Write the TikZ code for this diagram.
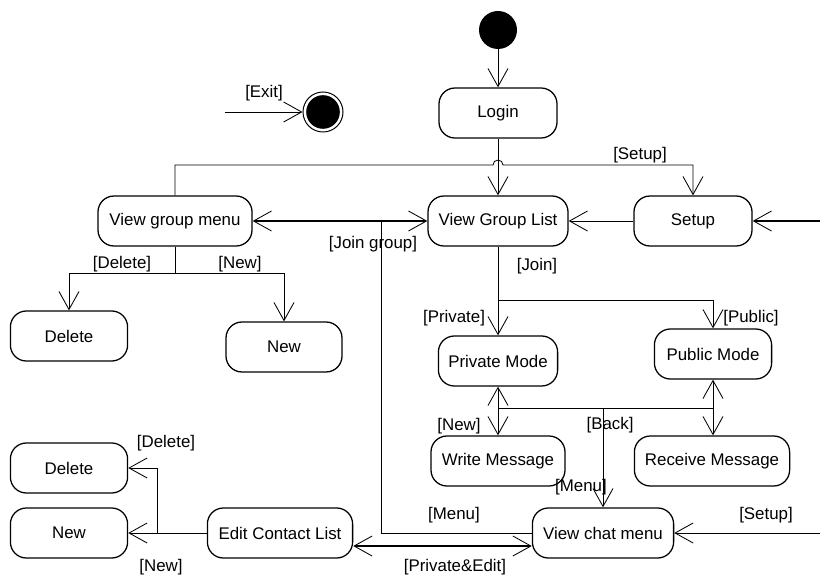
\documentclass[tikz,border=0pt]{standalone}
\usepackage{fontspec}
\setmainfont{Liberation Sans}
\usetikzlibrary{arrows.meta,positioning,calc}

\begin{document}
\begin{tikzpicture}[x=0.025cm, y=-0.025cm,
    act/.style={rectangle, draw, line width=0.9pt, rounded corners=0.4cm,
               minimum height=1.25cm, inner sep=2pt, font=\fontsize{12}{14}\selectfont, align=center},
    guard/.style={inner sep=0pt, font=\fontsize{12}{14}\selectfont},
    arr/.style={-{Straight Barb[length=0.45cm,width=0.5cm,line width=0.6pt]}, line width=0.6pt},
    biarr/.style={{Straight Barb[length=0.45cm,width=0.5cm,line width=0.6pt]}-{Straight Barb[length=0.45cm,width=0.5cm,line width=0.6pt]}, line width=0.6pt},
    heavy/.style={line width=1.2pt}
]
    \useasboundingbox (0,0) rectangle (820,576);

    % initial and final states
    \node[circle, fill, minimum size=0.95cm, inner sep=0pt] (start) at (498,30) {};
    \node[circle, draw, line width=0.7pt, minimum size=1cm, inner sep=0pt,
          path picture={\fill (path picture bounding box.center) circle (0.42cm);}] (final) at (323,112) {};

    % activities
    \node[act, minimum width=2.95cm] (login) at (498,113) {Login};
    \node[act, minimum width=3.85cm] (vgm)   at (175,221) {View group menu};
    \node[act, minimum width=3.5cm]  (vgl)   at (498,221) {View Group List};
    \node[act, minimum width=2.95cm] (setup) at (693,221) {Setup};
    \node[act, minimum width=2.93cm] (gdel)  at (69,336)  {Delete};
    \node[act, minimum width=2.9cm]  (gnew)  at (284,347) {New};
    \node[act, minimum width=2.98cm] (priv)  at (498,361) {Private Mode};
    \node[act, minimum width=2.93cm] (pub)   at (713,354) {Public Mode};
    \node[act, minimum width=3.35cm] (write) at (498,461) {Write Message};
    \node[act, minimum width=3.88cm] (recv)  at (712,461) {Receive Message};
    \node[act, minimum width=3.53cm] (chat)  at (603,533) {View chat menu};
    \node[act, minimum width=3.63cm] (edit)  at (280,533) {Edit Contact List};
    \node[act, minimum width=2.93cm] (cdel)  at (69,468)  {Delete};
    \node[act, minimum width=2.93cm] (cnew)  at (69,533)  {New};

    % loose ends and bends
    \coordinate (exitin)      at (225,112);
    \coordinate (setupin)     at (820,221);
    \coordinate (chatin)      at (820,533);
    \coordinate (topbar)      at (175,165);
    \coordinate (jump)        at (498,165);
    \coordinate (groupfork)   at (175,273);
    \coordinate (joinfork)    at (498,300);
    \coordinate (msgbar)      at (603,408);
    \coordinate (menujoin)    at (381,221);
    \coordinate (contactfork) at (157,533);

    % transitions
    \draw[arr] (start) -- (login);
    \draw[arr] (exitin) -- (final);
    \draw[arr] (login) -- (vgl);
    \draw[arr] (vgm.north) -- (topbar) -- ([xshift=-0.125cm]jump)
        arc[start angle=180, end angle=360, radius=5] -- (setup.north |- topbar) -- (setup.north);
    \draw[arr] (setup) -- (vgl);
    \draw[arr, heavy] (setupin) -- (setup);
    \draw[biarr, heavy] (vgm) -- (vgl);
    \draw[line width=0.6pt] (chat.west) -| (menujoin);

    \draw[line width=0.6pt] (vgm.south) -- (groupfork);
    \draw[arr] (groupfork) -| (gdel.north);
    \draw[arr] (groupfork) -| (gnew.north);

    \draw[line width=0.6pt] (vgl.south) -- (joinfork);
    \draw[arr] (joinfork) -- (priv.north);
    \draw[arr] (joinfork) -| (pub.north);

    \draw[biarr] (priv) -- (write);
    \draw[biarr] (pub.south) -- (pub.south |- recv.north);
    \draw[line width=0.6pt] (priv.south |- msgbar) -- (pub.south |- msgbar);
    \draw[arr] (msgbar) -- (chat.north);

    \draw[biarr, heavy] ([yshift=-0.325cm]edit.east) -- ([yshift=-0.325cm]chat.west);
    \draw[arr] (chatin) -- (chat.east);
    \draw[arr] (edit.west) -- (cnew.east);
    \draw[arr] (contactfork) |- (cdel.east);

    % guards
    \node[guard] (gexit)    at (264,93)  {[Exit]};
    \node[guard] (gsetup)   at (640,155) {[Setup]};
    \node[guard] (gjoingrp) at (373,244) {[Join group]};
    \node[guard] (ggdel)    at (122,264) {[Delete]};
    \node[guard] (ggnew)    at (240,264) {[New]};
    \node[guard] (gjoin)    at (537,266) {[Join]};
    \node[guard] (gpriv)    at (454,318) {[Private]};
    \node[guard] (gpub)     at (751,318) {[Public]};
    \node[guard] (gwnew)    at (459,426) {[New]};
    \node[guard] (gback)    at (610,425) {[Back]};
    \node[guard] (gmenua)   at (581,487) {[Menu]};
    \node[guard] (gmenub)   at (454,515) {[Menu]};
    \node[guard] (gsetupb)  at (766,515) {[Setup]};
    \node[guard] (gprived)  at (455,567) {[Private\&Edit]};
    \node[guard] (gcdel)    at (166,443) {[Delete]};
    \node[guard] (gcnew)    at (161,567) {[New]};
\end{tikzpicture}
\end{document}
